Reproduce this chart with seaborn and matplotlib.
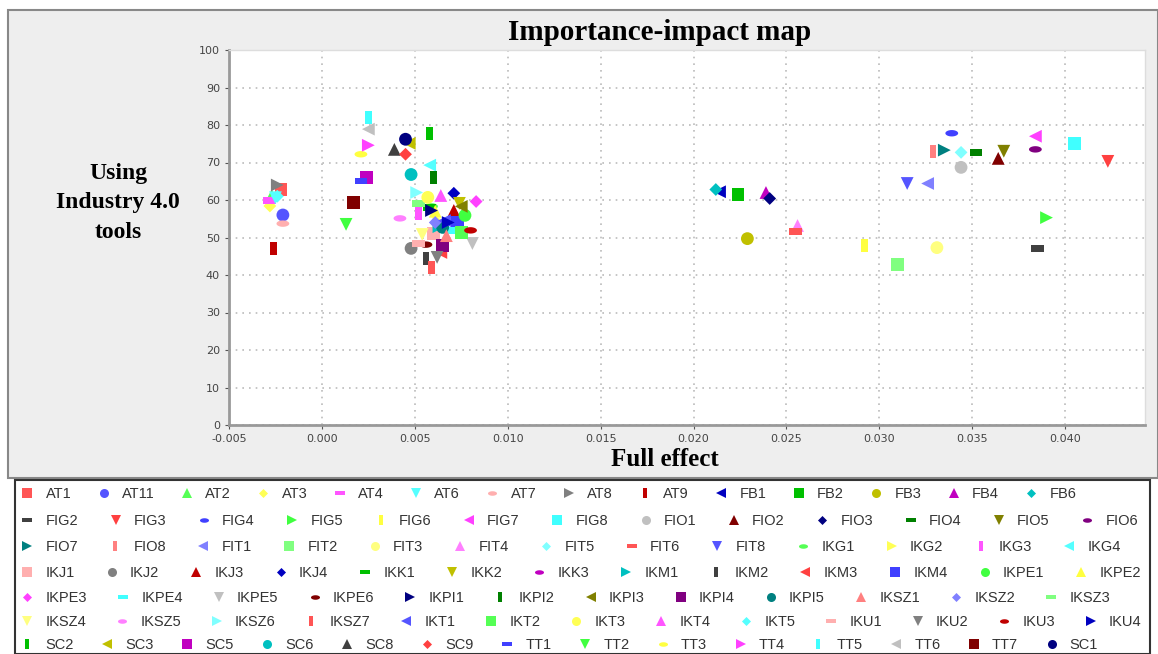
import numpy as np
import pandas as pd
import matplotlib
matplotlib.use("Agg")
import matplotlib.pyplot as plt
from matplotlib.path import Path
from matplotlib.lines import Line2D
from matplotlib.patches import Rectangle
import seaborn as sns

# ── Data ───────────────────────────────────────────────────────────────────────
factors = ["AT1", "AT11", "AT2", "AT3", "AT4", "AT6", "AT7", "AT8", "AT9",
           "FB1", "FB2", "FB3", "FB4", "FB6",
           "FIG2", "FIG3", "FIG4", "FIG5", "FIG6", "FIG7", "FIG8",
           "FIO1", "FIO2", "FIO3", "FIO4", "FIO5", "FIO6", "FIO7", "FIO8",
           "FIT1", "FIT2", "FIT3", "FIT4", "FIT5", "FIT6", "FIT8",
           "IKG1", "IKG2", "IKG3", "IKG4", "IKJ1", "IKJ2", "IKJ3", "IKJ4",
           "IKK1", "IKK2", "IKK3", "IKM1", "IKM2", "IKM3", "IKM4",
           "IKPE1", "IKPE2", "IKPE3", "IKPE4", "IKPE5", "IKPE6",
           "IKPI1", "IKPI2", "IKPI3", "IKPI4", "IKPI5",
           "IKSZ1", "IKSZ2", "IKSZ3", "IKSZ4", "IKSZ5", "IKSZ6", "IKSZ7",
           "IKT1", "IKT2", "IKT3", "IKT4", "IKT5",
           "IKU1", "IKU2", "IKU3", "IKU4",
           "SC2", "SC3", "SC5", "SC6", "SC8", "SC9",
           "TT1", "TT2", "TT3", "TT4", "TT5", "TT6", "TT7", "SC1"]

full_effect = [-0.0022, -0.0021, -0.0027, -0.0028, -0.0028, -0.0025, -0.0021, -0.0024, -0.0026,
               0.0214, 0.0224, 0.0229, 0.0239, 0.0212,
               0.0385, 0.0423, 0.0339, 0.0390, 0.0292, 0.0384, 0.0405,
               0.0344, 0.0364, 0.0241, 0.0352, 0.0367, 0.0384, 0.0335, 0.0329,
               0.0326, 0.0310, 0.0331, 0.0256, 0.0344, 0.0255, 0.0315,
               0.0059, 0.0063, 0.0052, 0.0058, 0.0060, 0.0048, 0.0071, 0.0071,
               0.0058, 0.0074, 0.0066, 0.0063, 0.0056, 0.0064, 0.0073,
               0.0077, 0.0061, 0.0083, 0.0070, 0.0081, 0.0056,
               0.0059, 0.0060, 0.0075, 0.0065, 0.0065,
               0.0067, 0.0061, 0.0052, 0.0054, 0.0042, 0.0051, 0.0059,
               0.0066, 0.0075, 0.0057, 0.0064, -0.0024,
               0.0052, 0.0062, 0.0080, 0.0068,
               0.0058, 0.0047, 0.0024, 0.0048, 0.0039, 0.0045,
               0.0021, 0.0013, 0.0021, 0.0025, 0.0025, 0.0025, 0.0017, 0.0045]

importance = [62.8, 56.0, 61.2, 58.4, 59.9, 60.6, 53.7, 64.0, 47.0,
              62.2, 61.5, 49.7, 62.0, 62.8,
              47.1, 70.3, 77.8, 55.3, 47.9, 77.0, 75.1,
              68.7, 71.1, 60.4, 72.7, 73.0, 73.5, 73.3, 73.0,
              64.4, 42.8, 47.3, 53.2, 72.7, 51.6, 64.4,
              58.3, 54.3, 56.4, 69.3, 51.1, 47.1, 57.2, 61.8,
              58.0, 59.1, 54.0, 52.9, 44.4, 46.0, 54.0,
              55.9, 57.0, 59.6, 51.9, 48.4, 48.1,
              57.2, 66.0, 58.3, 47.9, 52.7,
              50.5, 54.0, 59.1, 50.8, 55.1, 62.0, 42.0,
              54.5, 51.3, 60.7, 61.2, 61.0,
              48.4, 44.7, 51.9, 54.0,
              77.8, 75.1, 66.0, 66.8, 73.5, 72.2,
              65.0, 53.5, 72.2, 74.6, 82.1, 78.9, 59.4, 76.2]

legend_rows = [14, 13, 13, 13, 12, 13, 14]
x_ticks = np.arange(-0.005, 0.0401, 0.005)
y_ticks = np.arange(0, 101, 10)

# ── Series style cycle (colours / shapes) ──────────────────────────────────────
PAINTS = ["#FF5555", "#5555FF", "#55FF55", "#FFFF55", "#FF55FF", "#55FFFF",
          "#FFAFAF", "#808080", "#C00000", "#0000C0", "#00C000", "#C0C000",
          "#C000C0", "#00C0C0", "#404040", "#FF4040", "#4040FF", "#40FF40",
          "#FFFF40", "#FF40FF", "#40FFFF", "#C0C0C0", "#800000", "#000080",
          "#008000", "#808000", "#800080", "#008080", "#FF8080", "#8080FF",
          "#80FF80", "#FFFF80", "#FF80FF", "#80FFFF"]

t = np.linspace(0, 2 * np.pi, 40)
HRECT = Path([(-1, -0.5), (1, -0.5), (1, 0.5), (-1, 0.5), (-1, -0.5)], closed=True)
VRECT = Path([(-0.5, -1), (0.5, -1), (0.5, 1), (-0.5, 1), (-0.5, -1)], closed=True)
ELLIPSE = Path(np.column_stack([np.cos(t), 0.5 * np.sin(t)]), closed=True)
DIAMOND = Path([(0, -1), (1, 0), (0, 1), (-1, 0), (0, -1)], closed=True)
SHAPES = ["s", "o", "^", DIAMOND, HRECT, "v", ELLIPSE, ">", VRECT, "<"]

palette = {f: PAINTS[i % len(PAINTS)] for i, f in enumerate(factors)}
markers = {f: SHAPES[i % len(SHAPES)] for i, f in enumerate(factors)}

df = pd.DataFrame({"factor": factors, "effect": full_effect, "importance": importance})

# ── Figure ─────────────────────────────────────────────────────────────────────
W, H = 1158, 654
fig = plt.figure(figsize=(W / 100, H / 100), dpi=100)
fig.patch.set_facecolor("white")

# chart panel + legend panel backgrounds
fig.add_artist(Rectangle((8 / W, 1 - 478 / H), 1 - 8 / W, 468 / H, transform=fig.transFigure,
                         facecolor="#EEEEEE", edgecolor="#888888", lw=1.5, zorder=-10))
fig.add_artist(Rectangle((15 / W, 0), 1135 / W, 1 - 480 / H, transform=fig.transFigure,
                         facecolor="white", edgecolor="#333333", lw=1.5, zorder=-9))

ax = fig.add_axes([229 / W, 1 - 425 / H, (1145 - 229) / W, (425 - 50) / H])
ax.set_facecolor("white")

sns.scatterplot(data=df, x="effect", y="importance", hue="factor", style="factor",
                palette=palette, markers=markers, s=85, linewidth=0,
                legend=False, ax=ax, zorder=3)

ax.set_xlim(-0.005, 0.0443)
ax.set_ylim(0, 100)
ax.set_xticks(x_ticks)
ax.set_xticklabels([f"{v:.3f}" for v in x_ticks])
ax.set_yticks(y_ticks)
ax.set_xlabel("")
ax.set_ylabel("")
ax.tick_params(labelsize=8, colors="#555555", length=3, labelcolor="#444444")
ax.grid(True, color="#BBBBBB", linestyle=(0, (1, 3)), linewidth=1.2)
ax.set_axisbelow(True)
for side in ["left", "bottom"]:
    ax.spines[side].set_color("#999999")
    ax.spines[side].set_linewidth(2)
for side in ["top", "right"]:
    ax.spines[side].set_color("#DDDDDD")
    ax.spines[side].set_linewidth(1)

serif = ["Liberation Serif", "DejaVu Serif"]
fig.text(660 / W, 1 - 32 / H, "Importance-impact map", family=serif, weight="bold",
         fontsize=21, ha="center", va="center")
fig.text(118 / W, 1 - 203 / H, "Using\nIndustry 4.0\ntools", family=serif, weight="bold",
         fontsize=17, ha="center", va="center", linespacing=1.55)
fig.text(665 / W, 1 - 460 / H, "Full effect", family=serif, weight="bold",
         fontsize=18, ha="center", va="center")

# ── Legend (flow rows, spacing per row so each row fills like the original) ────
row_y = [494, 521, 547, 573, 598, 622, 645]
row_gap = [1.72, 2.07, 2.05, 2.04, 1.97, 1.95, 1.79]
start = 0
for n, yy, gap in zip(legend_rows, row_y, row_gap):
    names = factors[start:start + n]
    handles = [Line2D([], [], linestyle="none", marker=markers[f], color=palette[f],
                      markersize=6.5, markeredgewidth=0) for f in names]
    fig.legend(handles, names, loc="center left", bbox_to_anchor=(20 / W, 1 - yy / H),
               ncol=n, frameon=False, handlelength=1.0,
               handletextpad=0.75, columnspacing=gap, borderpad=0, borderaxespad=0,
               labelcolor="#333333",
               prop={"family": ["Liberation Sans", "DejaVu Sans"], "size": 10.5})
    start += n

fig.savefig("out.png", dpi=100, facecolor=fig.get_facecolor())
